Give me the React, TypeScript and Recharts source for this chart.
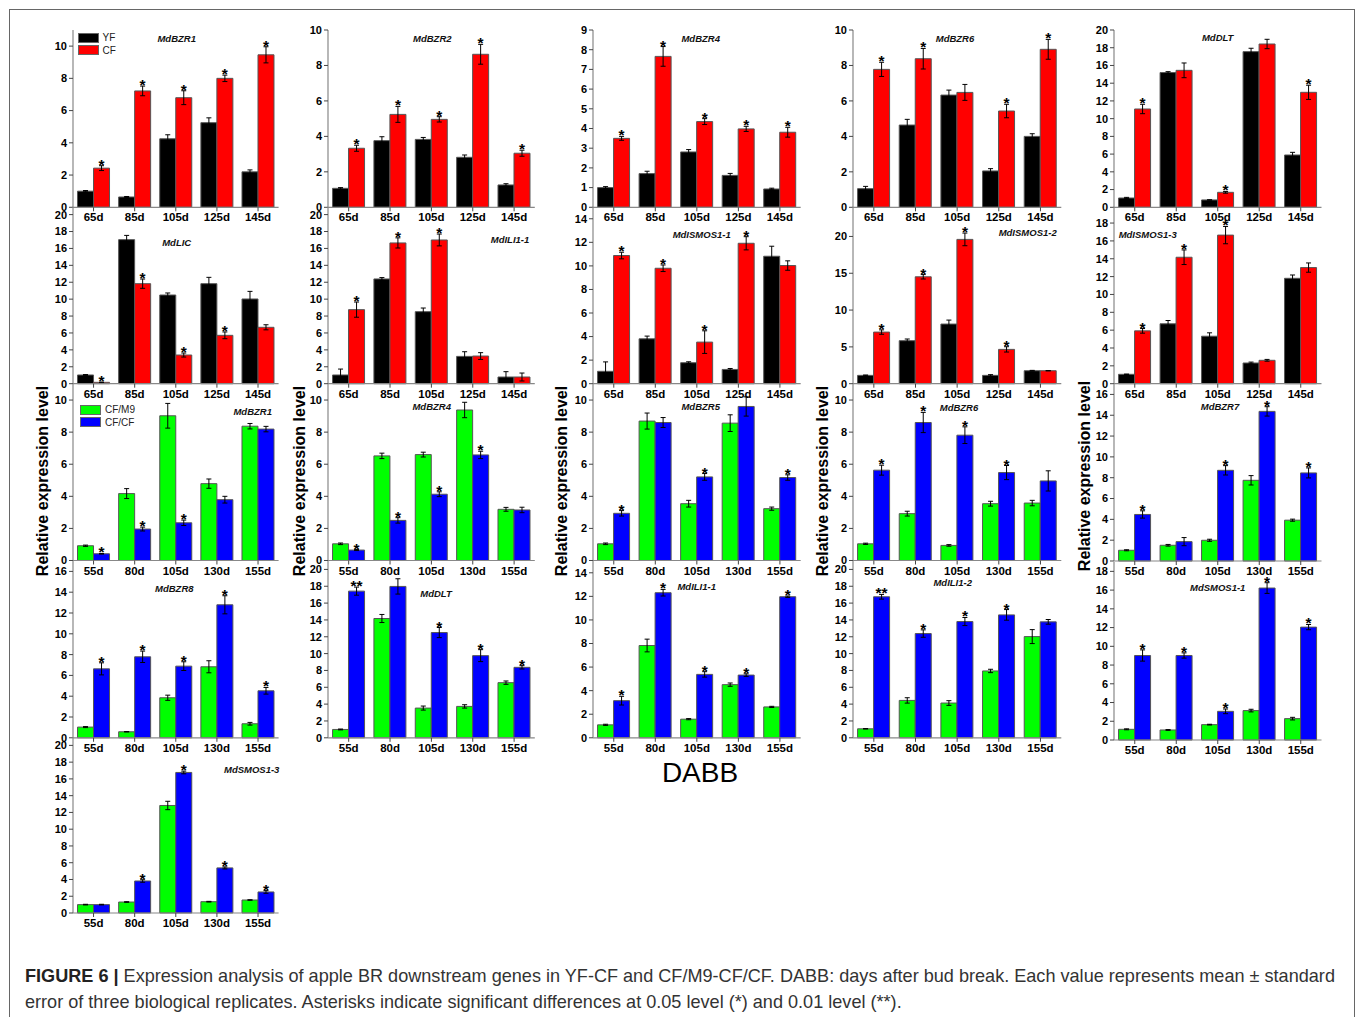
import { BarChart, Bar, XAxis, YAxis, ErrorBar, LabelList } from "recharts";

const DAYS_YF = ["65d", "85d", "105d", "125d", "145d"];
const DAYS_M9 = ["55d", "80d", "105d", "130d", "155d"];

// YF vs CF
const BZR1_YF = [1.0, 0.64, 4.25, 5.25, 2.2];
const BZR1_YF_SE = [0.04, 0.03, 0.25, 0.3, 0.12];
const BZR1_CF = [2.43, 7.22, 6.8, 8.0, 9.46];
const BZR1_CF_SE = [0.15, 0.3, 0.43, 0.2, 0.5];
const BZR1_SIG = ["*", "*", "*", "*", "*"];

const BZR2_YF = [1.07, 3.76, 3.83, 2.82, 1.26];
const BZR2_YF_SE = [0.04, 0.22, 0.11, 0.13, 0.07];
const BZR2_CF = [3.33, 5.24, 4.96, 8.63, 3.05];
const BZR2_CF_SE = [0.17, 0.45, 0.15, 0.56, 0.17];
const BZR2_SIG = ["*", "*", "*", "*", "*"];

const BZR4_YF = [1.0, 1.71, 2.81, 1.62, 0.93];
const BZR4_YF_SE = [0.05, 0.12, 0.12, 0.1, 0.04];
const BZR4_CF = [3.5, 7.66, 4.35, 3.98, 3.81];
const BZR4_CF_SE = [0.1, 0.5, 0.15, 0.13, 0.25];
const BZR4_SIG = ["*", "*", "*", "*", "*"];

const BZR6_YF = [1.05, 4.64, 6.33, 2.05, 4.0];
const BZR6_YF_SE = [0.13, 0.32, 0.28, 0.13, 0.15];
const BZR6_CF = [7.78, 8.38, 6.48, 5.43, 8.91];
const BZR6_CF_SE = [0.4, 0.58, 0.45, 0.38, 0.56];
const BZR6_SIG = ["*", "*", "", "*", "*"];

const DLT_YF = [1.05, 15.2, 0.83, 17.56, 5.9];
const DLT_YF_SE = [0.07, 0.1, 0.02, 0.38, 0.3];
const DLT_CF = [11.09, 15.45, 1.69, 18.42, 12.97];
const DLT_CF_SE = [0.53, 0.83, 0.1, 0.53, 0.8];
const DLT_SIG = ["*", "", "*", "", "*"];

const LIC_YF = [1.03, 17.04, 10.49, 11.83, 10.02];
const LIC_YF_SE = [0.05, 0.5, 0.24, 0.75, 0.9];
const LIC_CF = [0.16, 11.83, 3.39, 5.72, 6.67];
const LIC_CF_SE = [0.03, 0.55, 0.24, 0.4, 0.3];
const LIC_SIG = ["*", "*", "*", "*", ""];

const ILI11_YF = [1.03, 12.39, 8.52, 3.23, 0.79];
const ILI11_YF_SE = [0.7, 0.16, 0.43, 0.55, 0.63];
const ILI11_CF = [8.76, 16.65, 17.0, 3.27, 0.79];
const ILI11_CF_SE = [0.9, 0.6, 0.7, 0.4, 0.47];
const ILI11_SIG = ["*", "*", "*", "", ""];

const ISMOS11_YF = [1.05, 3.81, 1.78, 1.21, 10.82];
const ISMOS11_YF_SE = [0.8, 0.23, 0.08, 0.08, 0.85];
const ISMOS11_CF = [10.88, 9.8, 3.53, 11.92, 10.03];
const ISMOS11_CF_SE = [0.28, 0.28, 0.96, 0.56, 0.4];
const ISMOS11_SIG = ["*", "*", "*", "*", ""];

const ISMOS12_YF = [1.13, 5.84, 8.1, 1.13, 1.76];
const ISMOS12_YF_SE = [0.05, 0.23, 0.54, 0.1, 0.05];
const ISMOS12_CF = [7.01, 14.52, 19.6, 4.66, 1.76];
const ISMOS12_CF_SE = [0.3, 0.3, 0.86, 0.36, 0.02];
const ISMOS12_SIG = ["*", "*", "*", "*", ""];

const ISMOS13_YF = [1.05, 6.71, 5.32, 2.32, 11.81];
const ISMOS13_YF_SE = [0.03, 0.37, 0.38, 0.1, 0.37];
const ISMOS13_CF = [5.92, 14.17, 16.65, 2.62, 13.01];
const ISMOS13_CF_SE = [0.26, 0.82, 0.97, 0.1, 0.52];
const ISMOS13_SIG = ["*", "*", "*", "", ""];

// CF/M9 vs CF/CF
const M_BZR1_M9 = [0.92, 4.17, 9.02, 4.79, 8.37];
const M_BZR1_M9_SE = [0.04, 0.31, 0.77, 0.29, 0.17];
const M_BZR1_CF = [0.42, 1.96, 2.35, 3.79, 8.19];
const M_BZR1_CF_SE = [0.02, 0.12, 0.17, 0.21, 0.17];
const M_BZR1_SIG = ["*", "*", "*", "", ""];

const M_BZR4_M9 = [1.04, 6.52, 6.6, 9.38, 3.19];
const M_BZR4_M9_SE = [0.05, 0.17, 0.15, 0.48, 0.12];
const M_BZR4_CF = [0.65, 2.5, 4.13, 6.58, 3.15];
const M_BZR4_CF_SE = [0.03, 0.17, 0.15, 0.23, 0.17];
const M_BZR4_SIG = ["*", "*", "*", "*", ""];

const M_BZR5_M9 = [1.04, 8.69, 3.54, 8.56, 3.23];
const M_BZR5_M9_SE = [0.05, 0.5, 0.21, 0.52, 0.1];
const M_BZR5_CF = [2.94, 8.6, 5.21, 9.6, 5.17];
const M_BZR5_CF_SE = [0.17, 0.31, 0.21, 0.6, 0.17];
const M_BZR5_SIG = ["*", "", "*", "", "*"];

const M_BZR6_M9 = [1.04, 2.92, 0.94, 3.54, 3.58];
const M_BZR6_M9_SE = [0.04, 0.15, 0.05, 0.15, 0.17];
const M_BZR6_CF = [5.63, 8.6, 7.81, 5.48, 4.96];
const M_BZR6_CF_SE = [0.31, 0.63, 0.52, 0.44, 0.63];
const M_BZR6_SIG = ["*", "*", "*", "*", ""];

const M_BZR7_M9 = [1.03, 1.51, 1.99, 7.75, 3.92];
const M_BZR7_M9_SE = [0.05, 0.08, 0.1, 0.45, 0.1];
const M_BZR7_CF = [4.47, 1.86, 8.71, 14.37, 8.46];
const M_BZR7_CF_SE = [0.35, 0.39, 0.45, 0.45, 0.48];
const M_BZR7_SIG = ["*", "", "*", "*", "*"];

const M_BZR8_M9 = [1.03, 0.58, 3.85, 6.83, 1.35];
const M_BZR8_M9_SE = [0.05, 0.02, 0.25, 0.58, 0.13];
const M_BZR8_CF = [6.63, 7.79, 6.89, 12.79, 4.52];
const M_BZR8_CF_SE = [0.58, 0.55, 0.42, 0.87, 0.32];
const M_BZR8_SIG = ["*", "*", "*", "*", "*"];

const M_DLT_M9 = [0.99, 14.17, 3.53, 3.73, 6.55];
const M_DLT_M9_SE = [0.05, 0.48, 0.24, 0.2, 0.2];
const M_DLT_CF = [17.42, 17.98, 12.5, 9.76, 8.37];
const M_DLT_CF_SE = [0.48, 0.91, 0.6, 0.71, 0.2];
const M_DLT_SIG = ["**", "", "*", "*", "*"];

const M_ILI11_M9 = [1.1, 7.83, 1.58, 4.51, 2.62];
const M_ILI11_M9_SE = [0.05, 0.54, 0.05, 0.14, 0.05];
const M_ILI11_CF = [3.15, 12.31, 5.38, 5.32, 11.97];
const M_ILI11_CF_SE = [0.37, 0.28, 0.23, 0.11, 0.06];
const M_ILI11_SIG = ["*", "*", "*", "*", "*"];

const M_ILI12_M9 = [1.07, 4.44, 4.13, 7.94, 12.02];
const M_ILI12_M9_SE = [0.02, 0.32, 0.28, 0.2, 0.83];
const M_ILI12_CF = [16.75, 12.38, 13.81, 14.6, 13.77];
const M_ILI12_CF_SE = [0.28, 0.44, 0.48, 0.63, 0.28];
const M_ILI12_SIG = ["**", "*", "*", "*", ""];

const M_SMOS11_M9 = [1.14, 1.07, 1.64, 3.14, 2.28];
const M_SMOS11_M9_SE = [0.05, 0.04, 0.04, 0.14, 0.14];
const M_SMOS11_CF = [9.02, 9.02, 3.06, 16.22, 12.05];
const M_SMOS11_CF_SE = [0.6, 0.28, 0.25, 0.57, 0.28];
const M_SMOS11_SIG = ["*", "*", "*", "*", "*"];

const M_SMOS13_M9 = [1.0, 1.31, 12.83, 1.35, 1.55];
const M_SMOS13_M9_SE = [0.04, 0.04, 0.5, 0.04, 0.03];
const M_SMOS13_CF = [1.0, 3.82, 16.77, 5.38, 2.51];
const M_SMOS13_CF_SE = [0.04, 0.15, 0.16, 0.12, 0.16];
const M_SMOS13_SIG = ["", "*", "*", "*", "*"];

const FONT = "Arial, 'Liberation Sans', Helvetica, sans-serif";
const FRAME = "#888";
const YF_COLORS = ["#000000", "#ff0000"];
const M9_COLORS = ["#00ff00", "#0000ff"];

const T10 = [0, 2, 4, 6, 8, 10];
const T9 = [0, 1, 2, 3, 4, 5, 6, 7, 8, 9];
const T14 = [0, 2, 4, 6, 8, 10, 12, 14];
const T16 = [0, 2, 4, 6, 8, 10, 12, 14, 16];
const T18 = [0, 2, 4, 6, 8, 10, 12, 14, 16, 18];
const T20 = [0, 2, 4, 6, 8, 10, 12, 14, 16, 18, 20];
const T20_5 = [0, 5, 10, 15, 20];

// column edges (plot area)
const C1 = [72.7, 278.3];
const C2 = [327.5, 534.3];
const C3 = [593.3, 801];
const C4 = [852.7, 1061];
const C5 = [1113.5, 1321];

const panels = [
  { t: "MdBZR1", c: C1, y: [30, 207.3], max: 11, ticks: T10, tp: [176.7, 37.5], cats: DAYS_YF, a: BZR1_YF, ae: BZR1_YF_SE, b: BZR1_CF, be: BZR1_CF_SE, s: BZR1_SIG, col: YF_COLORS },
  { t: "MdBZR2", c: C2, y: [30, 207.3], max: 10, ticks: T10, tp: [432.3, 38.3], cats: DAYS_YF, a: BZR2_YF, ae: BZR2_YF_SE, b: BZR2_CF, be: BZR2_CF_SE, s: BZR2_SIG, col: YF_COLORS },
  { t: "MdBZR4", c: C3, y: [30, 207.3], max: 9, ticks: T9, tp: [700.7, 37.7], cats: DAYS_YF, a: BZR4_YF, ae: BZR4_YF_SE, b: BZR4_CF, be: BZR4_CF_SE, s: BZR4_SIG, col: YF_COLORS },
  { t: "MdBZR6", c: C4, y: [30, 207.3], max: 10, ticks: T10, tp: [955, 37.7], cats: DAYS_YF, a: BZR6_YF, ae: BZR6_YF_SE, b: BZR6_CF, be: BZR6_CF_SE, s: BZR6_SIG, col: YF_COLORS },
  { t: "MdDLT", c: C5, y: [30, 207.3], max: 20, ticks: T20, tp: [1217.7, 37.3], cats: DAYS_YF, a: DLT_YF, ae: DLT_YF_SE, b: DLT_CF, be: DLT_CF_SE, s: DLT_SIG, col: YF_COLORS },

  { t: "MdLIC", c: C1, y: [207.3, 384], max: 20.9, ticks: T20, tp: [176.7, 241.7], cats: DAYS_YF, a: LIC_YF, ae: LIC_YF_SE, b: LIC_CF, be: LIC_CF_SE, s: LIC_SIG, col: YF_COLORS },
  { t: "MdILI1-1", c: C2, y: [207.3, 384], max: 20.9, ticks: T20, tp: [510, 239.3], cats: DAYS_YF, a: ILI11_YF, ae: ILI11_YF_SE, b: ILI11_CF, be: ILI11_CF_SE, s: ILI11_SIG, col: YF_COLORS },
  { t: "MdISMOS1-1", c: C3, y: [207.3, 384], max: 15, ticks: T14, tp: [701.7, 234.3], cats: DAYS_YF, a: ISMOS11_YF, ae: ISMOS11_YF_SE, b: ISMOS11_CF, be: ISMOS11_CF_SE, s: ISMOS11_SIG, col: YF_COLORS },
  { t: "MdISMOS1-2", c: C4, y: [207.3, 384], max: 24, ticks: T20_5, tp: [1027.7, 232.3], cats: DAYS_YF, a: ISMOS12_YF, ae: ISMOS12_YF_SE, b: ISMOS12_CF, be: ISMOS12_CF_SE, s: ISMOS12_SIG, col: YF_COLORS },
  { t: "MdISMOS1-3", c: C5, y: [207.3, 384], max: 19.8, ticks: T18, tp: [1147.7, 233.7], cats: DAYS_YF, a: ISMOS13_YF, ae: ISMOS13_YF_SE, b: ISMOS13_CF, be: ISMOS13_CF_SE, s: ISMOS13_SIG, col: YF_COLORS },

  { t: "MdBZR1", c: C1, y: [384, 560.5], max: 11, ticks: T10, tp: [252.7, 411], cats: DAYS_M9, a: M_BZR1_M9, ae: M_BZR1_M9_SE, b: M_BZR1_CF, be: M_BZR1_CF_SE, s: M_BZR1_SIG, col: M9_COLORS },
  { t: "MdBZR4", c: C2, y: [384, 560.5], max: 11, ticks: T10, tp: [431.7, 406], cats: DAYS_M9, a: M_BZR4_M9, ae: M_BZR4_M9_SE, b: M_BZR4_CF, be: M_BZR4_CF_SE, s: M_BZR4_SIG, col: M9_COLORS },
  { t: "MdBZR5", c: C3, y: [384, 560.5], max: 11, ticks: T10, tp: [700.7, 406], cats: DAYS_M9, a: M_BZR5_M9, ae: M_BZR5_M9_SE, b: M_BZR5_CF, be: M_BZR5_CF_SE, s: M_BZR5_SIG, col: M9_COLORS },
  { t: "MdBZR6", c: C4, y: [384, 560.5], max: 11, ticks: T10, tp: [959, 406.7], cats: DAYS_M9, a: M_BZR6_M9, ae: M_BZR6_M9_SE, b: M_BZR6_CF, be: M_BZR6_CF_SE, s: M_BZR6_SIG, col: M9_COLORS },
  { t: "MdBZR7", c: C5, y: [384, 561], max: 17, ticks: T16, tp: [1220, 405.7], cats: DAYS_M9, a: M_BZR7_M9, ae: M_BZR7_M9_SE, b: M_BZR7_CF, be: M_BZR7_CF_SE, s: M_BZR7_SIG, col: M9_COLORS },

  { t: "MdBZR8", c: C1, y: [560.5, 737.3], max: 17, ticks: T16, tp: [174.3, 587.7], cats: DAYS_M9, a: M_BZR8_M9, ae: M_BZR8_M9_SE, b: M_BZR8_CF, be: M_BZR8_CF_SE, s: M_BZR8_SIG, col: M9_COLORS },
  { t: "MdDLT", c: C2, y: [560.5, 737.3], max: 21, ticks: T20, tp: [436, 592.7], cats: DAYS_M9, a: M_DLT_M9, ae: M_DLT_M9_SE, b: M_DLT_CF, be: M_DLT_CF_SE, s: M_DLT_SIG, col: M9_COLORS },
  { t: "MdILI1-1", c: C3, y: [560.5, 737.3], max: 15, ticks: T14, tp: [696.7, 585.7], cats: DAYS_M9, a: M_ILI11_M9, ae: M_ILI11_M9_SE, b: M_ILI11_CF, be: M_ILI11_CF_SE, s: M_ILI11_SIG, col: M9_COLORS },
  { t: "MdILI1-2", c: C4, y: [560.5, 737.3], max: 21, ticks: T20, tp: [952.7, 582.3], cats: DAYS_M9, a: M_ILI12_M9, ae: M_ILI12_M9_SE, b: M_ILI12_CF, be: M_ILI12_CF_SE, s: M_ILI12_SIG, col: M9_COLORS },
  { t: "MdSMOS1-1", c: C5, y: [562, 740], max: 19, ticks: T18, tp: [1217.7, 587.3], cats: DAYS_M9, a: M_SMOS11_M9, ae: M_SMOS11_M9_SE, b: M_SMOS11_CF, be: M_SMOS11_CF_SE, s: M_SMOS11_SIG, col: M9_COLORS },

  { t: "MdSMOS1-3", c: C1, y: [737.3, 913.3], max: 21, ticks: T20, tp: [251.7, 768.7], cats: DAYS_M9, a: M_SMOS13_M9, ae: M_SMOS13_M9_SE, b: M_SMOS13_CF, be: M_SMOS13_CF_SE, s: M_SMOS13_SIG, col: M9_COLORS },
];

const PAD_L = 34;
const PAD_R = 6;
const PAD_T = 6;
const X_H = 24;

function starLabel(rows: any[]) {
  return (props: any) => {
    const { x, y, width, height, index, value } = props;
    if (!value) return null;
    const row = rows[index];
    const perUnit = row.b > 0 ? height / row.b : 0;
    const top = y - row.be * perUnit;
    return (
      <text
        x={x + width / 2}
        y={top + 4}
        textAnchor="middle"
        fontSize={15.5}
        fontWeight={700}
        fontFamily={FONT}
        fill="#000"
      >
        {value}
      </text>
    );
  };
}

function Panel({ p }: { p: any }) {
  const rows = p.cats.map((d: string, i: number) => ({
    day: d,
    a: p.a[i],
    ae: p.ae[i],
    b: p.b[i],
    be: p.be[i],
    sig: p.s[i],
  }));
  const w = p.c[1] - p.c[0] + PAD_L + PAD_R;
  const h = p.y[1] - p.y[0] + PAD_T + X_H;
  return (
    <div style={{ position: "absolute", left: p.c[0] - PAD_L, top: p.y[0] - PAD_T }}>
      <BarChart
        width={w}
        height={h}
        data={rows}
        margin={{ top: PAD_T, right: PAD_R, bottom: 0, left: 0 }}
        barCategoryGap="11%"
        barGap={0}
      >
        <XAxis
          dataKey="day"
          height={X_H}
          interval={0}
          tickSize={4}
          tickLine={{ stroke: "#444" }}
          axisLine={{ stroke: FRAME, strokeWidth: 1.2 }}
          tick={{ fontSize: 11.5, fontWeight: 700, fill: "#000", fontFamily: FONT }}
        />
        <XAxis
          xAxisId="top"
          orientation="top"
          dataKey="day"
          height={0}
          tick={false}
          tickLine={false}
          axisLine={{ stroke: FRAME, strokeWidth: 1.2 }}
        />
        <YAxis
          domain={[0, p.max]}
          ticks={p.ticks}
          interval={0}
          width={PAD_L}
          tickSize={4}
          tickLine={{ stroke: "#444" }}
          axisLine={{ stroke: FRAME, strokeWidth: 1.2 }}
          tick={{ fontSize: 11, fontWeight: 700, fill: "#000", fontFamily: FONT }}
        />
        <YAxis
          yAxisId="r"
          orientation="right"
          domain={[0, p.max]}
          width={0}
          tick={false}
          tickLine={false}
          axisLine={{ stroke: FRAME, strokeWidth: 1.2 }}
        />
        <Bar dataKey="a" fill={p.col[0]} stroke="#555" strokeWidth={1} isAnimationActive={false}>
          <ErrorBar dataKey="ae" width={2.5} stroke="#000" strokeWidth={1} />
        </Bar>
        <Bar dataKey="b" fill={p.col[1]} stroke="#555" strokeWidth={1} isAnimationActive={false}>
          <ErrorBar dataKey="be" width={2.5} stroke="#000" strokeWidth={1} />
          <LabelList dataKey="sig" content={starLabel(rows)} />
        </Bar>
      </BarChart>
      <div
        style={{
          position: "absolute",
          left: p.tp[0] - (p.c[0] - PAD_L),
          top: p.tp[1] - (p.y[0] - PAD_T),
          transform: "translate(-50%, -50%)",
          fontFamily: FONT,
          fontSize: 9.5,
          fontWeight: 700,
          fontStyle: "italic",
          whiteSpace: "nowrap",
          color: "#111",
        }}
      >
        {p.t}
      </div>
    </div>
  );
}

function LegendBox({ x, y, items }: { x: number; y: number; items: { name: string; color: string }[] }) {
  return (
    <div style={{ position: "absolute", left: x, top: y, fontFamily: FONT, fontSize: 10 }}>
      {items.map((it) => (
        <div key={it.name} style={{ display: "flex", alignItems: "center", height: 12.5 }}>
          <div style={{ width: 19, height: 8, background: it.color, border: "1px solid #666", marginRight: 4 }} />
          <span style={{ color: "#222" }}>{it.name}</span>
        </div>
      ))}
    </div>
  );
}

const YLABEL_X = [43, 300, 562, 823, 1085];

export default function App() {
  return (
    <div
      style={{
        position: "absolute",
        left: 0,
        top: 0,
        width: 1358,
        height: 1017,
        background: "#fff",
        overflow: "hidden",
        fontFamily: FONT,
      }}
    >
      <div
        style={{
          position: "absolute",
          left: 9,
          top: 9,
          width: 1346,
          height: 1030,
          border: "1.5px solid #666",
          boxSizing: "border-box",
        }}
      />
      {panels.map((p, i) => (
        <Panel key={i} p={p} />
      ))}
      <LegendBox
        x={77.5}
        y={31.5}
        items={[
          { name: "YF", color: YF_COLORS[0] },
          { name: "CF", color: YF_COLORS[1] },
        ]}
      />
      <LegendBox
        x={80}
        y={403.5}
        items={[
          { name: "CF/M9", color: M9_COLORS[0] },
          { name: "CF/CF", color: M9_COLORS[1] },
        ]}
      />
      {YLABEL_X.map((x, i) => (
        <div
          key={i}
          style={{
            position: "absolute",
            left: x,
            top: i === 4 ? 476 : 481,
            transform: "translate(-50%, -50%) rotate(-90deg)",
            fontSize: 16,
            fontWeight: 700,
            whiteSpace: "nowrap",
            color: "#000",
          }}
        >
          Relative expression level
        </div>
      ))}
      <div
        style={{
          position: "absolute",
          left: 700,
          top: 773,
          transform: "translate(-50%, -50%)",
          fontSize: 28,
          color: "#000",
        }}
      >
        DABB
      </div>
      <div
        style={{
          position: "absolute",
          left: 25,
          top: 963,
          fontSize: 18.1,
          lineHeight: "26px",
          color: "#333",
          whiteSpace: "nowrap",
        }}
      >
        <b style={{ color: "#222" }}>FIGURE 6 |</b> Expression analysis of apple BR downstream genes in YF-CF and
        CF/M9-CF/CF. DABB: days after bud break. Each value represents mean ± standard
        <br />
        error of three biological replicates. Asterisks indicate significant differences at 0.05 level (*) and 0.01
        level (**).
      </div>
    </div>
  );
}
